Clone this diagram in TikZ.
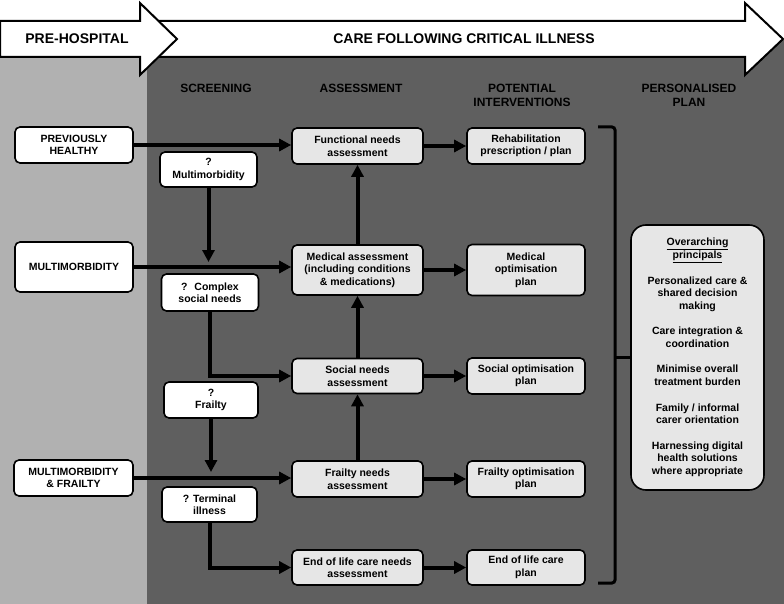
\documentclass[tikz,border=0pt]{standalone}
\usepackage{fontspec}
\setmainfont{Liberation Sans}
\usetikzlibrary{arrows.meta}
\definecolor{lightbg}{HTML}{B1B1B1}
\definecolor{darkbg}{HTML}{5F5F5F}
\definecolor{boxgray}{HTML}{E6E6E6}
\begin{document}
\begin{tikzpicture}[x=1pt,y=-1pt,
  box/.style={draw=black, line width=1.6pt, rounded corners=5pt, align=center,
    font=\bfseries\fontsize{10.5}{12.5}\selectfont, inner sep=1pt},
  wbox/.style={box, fill=white},
  gbox/.style={box, fill=boxgray},
  head/.style={align=center, font=\bfseries\fontsize{12}{14}\selectfont, text=black},
  title/.style={font=\bfseries\fontsize{14}{16}\selectfont, text=black},
  bigarrow/.style={draw=black, line width=2pt, fill=white, line join=miter},
  flow/.style={line width=4pt, -{Triangle[length=12pt,width=12pt]}},
  brace/.style={line width=3pt, rounded corners=3pt}
]
\useasboundingbox (0,0) rectangle (784,604);
% backgrounds
\fill[lightbg] (0,40) rectangle (147,604);
\fill[darkbg] (147,40) rectangle (784,604);
% top arrows
\draw[bigarrow] (150,21) -- (745,21) -- (745,3) -- (783,39) -- (745,75) -- (745,57) -- (150,57) -- cycle;
\draw[bigarrow] (0,21) -- (140,21) -- (140,3) -- (177,39) -- (140,75) -- (140,57) -- (0,57) -- cycle;
\node[title] (tph) at (77,39) {PRE-HOSPITAL};
\node[title] (tcare) at (464,39) {CARE FOLLOWING CRITICAL ILLNESS};
% column headers
\node[head] (hscr) at (216,88) {SCREENING};
\node[head] (hass) at (361,88) {ASSESSMENT};
\node[head] (hint) at (522,95) {POTENTIAL\\INTERVENTIONS};
\node[head] (hplan) at (689,95) {PERSONALISED\\PLAN};
% pre-hospital boxes
\node[wbox, minimum width=118pt, minimum height=36pt] (ph) at (74,145) {PREVIOUSLY\\HEALTHY};
\node[wbox, minimum width=118pt, minimum height=50pt] (mm) at (74,267) {MULTIMORBIDITY};
\node[wbox, minimum width=119pt, minimum height=36pt] (mmf) at (73.5,478) {MULTIMORBIDITY\\\& FRAILTY};
% screening boxes
\node[wbox, minimum width=97pt, minimum height=35pt] (s1) at (208.5,169.5) {?\\Multimorbidity};
\node[wbox, minimum width=97pt, minimum height=37pt] (s2) at (210,292.5) {?~ Complex\\social needs};
\node[wbox, minimum width=94pt, minimum height=36pt] (s3) at (211,400) {?\\Frailty};
\node[wbox, minimum width=95pt, minimum height=35pt] (s4) at (209.5,504.5) {? Terminal\\illness};
% assessment boxes
\node[gbox, minimum width=131pt, minimum height=36pt] (a1) at (357.5,146) {Functional needs\\assessment};
\node[gbox, minimum width=131pt, minimum height=50pt] (a2) at (357.5,270) {Medical assessment\\(including conditions\\\& medications)};
\node[gbox, minimum width=131pt, minimum height=35pt] (a3) at (357.5,376) {Social needs\\assessment};
\node[gbox, minimum width=131pt, minimum height=36pt] (a4) at (357.5,479) {Frailty needs\\assessment};
\node[gbox, minimum width=131pt, minimum height=35pt] (a5) at (357.5,567.5) {End of life care needs\\assessment};
% intervention boxes
\node[gbox, minimum width=118pt, minimum height=36pt] (i1) at (526,146) {Rehabilitation\\prescription / plan};
\node[gbox, minimum width=118pt, minimum height=51pt] (i2) at (526,270) {Medical\\optimisation\\plan};
\node[gbox, minimum width=118pt, minimum height=36pt] (i3) at (526,376) {Social optimisation\\plan};
\node[gbox, minimum width=118pt, minimum height=36pt] (i4) at (526,479) {Frailty optimisation\\plan};
\node[gbox, minimum width=118pt, minimum height=35pt] (i5) at (526,567.5) {End of life care\\plan};
% principles box
\node[gbox, rounded corners=15pt, minimum width=133pt, minimum height=265pt,
  font=\bfseries\fontsize{10.5}{12.7}\selectfont] (pb) at (697.5,357.5)
  {\underline{Overarching}\\\underline{principals}\\[12.7pt]
   Personalized care \&\\shared decision\\making\\[12.7pt]
   Care integration \&\\coordination\\[12.7pt]
   Minimise overall\\treatment burden\\[12.7pt]
   Family / informal\\carer orientation\\[12.7pt]
   Harnessing digital\\health solutions\\where appropriate};
% free ends
\coordinate (s1end) at (208.5,262);
\coordinate (s3end) at (211,472);
% connectors
\draw[flow] (ph.east) -- (ph.east -| a1.west);
\draw[flow] (mm.east) -- (mm.east -| a2.west);
\draw[flow] (mmf.east) -- (mmf.east -| a4.west);
\draw[flow] (s1.south) -- (s1end);
\draw[flow] (s2.south) |- (a3.west);
\draw[flow] (s3.south) -- (s3end);
\draw[flow] (s4.south) |- (a5.west);
\draw[flow] (a2.north) -- (a1.south);
\draw[flow] (a3.north) -- (a2.south);
\draw[flow] (a4.north) -- (a3.south);
\draw[flow] (a1.east) -- (i1.west);
\draw[flow] (a2.east) -- (i2.west);
\draw[flow] (a3.east) -- (i3.west);
\draw[flow] (a4.east) -- (i4.west);
\draw[flow] (a5.east) -- (i5.west);
% bracket
\draw[brace] (598,127) -- (615,127) -- (615,583) -- (598,583);
\coordinate (brmid) at (615,357.5);
\draw[line width=3pt] (brmid) -- (pb.west);
\end{tikzpicture}
\end{document}
